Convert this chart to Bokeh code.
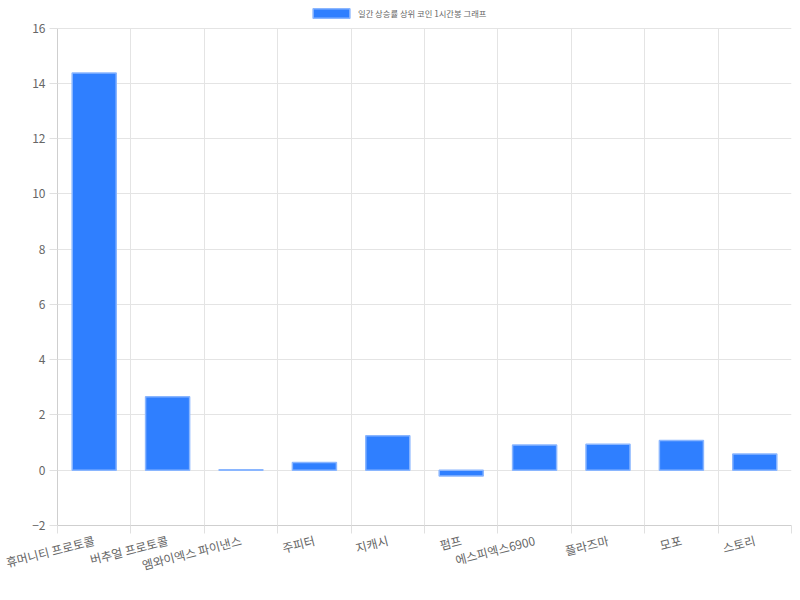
from bokeh.plotting import figure
from bokeh.models import FixedTicker, Grid, Legend, LegendItem, ColumnDataSource, Range1d
from bokeh.embed import file_html
from bokeh.resources import INLINE

categories = ["휴머니티 프로토콜", "버추얼 프로토콜", "엠와이엑스 파이낸스", "주피터", "지캐시",
              "펌프", "에스피엑스6900", "플라즈마", "모포", "스토리"]
values = [14.37, 2.66, 0.02, 0.28, 1.25, -0.21, 0.91, 0.94, 1.08, 0.59]
series_name = "일간 상승률 상위 코인 1시간봉 그래프"
y_ticks = [-2, 0, 2, 4, 6, 8, 10, 12, 14, 16]

n = len(categories)
centers = [i + 0.5 for i in range(n)]
bounds = [float(i) for i in range(n + 1)]

FONT = "Noto Sans CJK KR"

W, H = 792, 584
LEFT, BOTTOM, TOP_PAD = 57, 50, 28
frame_h = H - BOTTOM
ymin, ymax = -2, 16
px_per_unit = (frame_h - TOP_PAD) / (ymax - ymin)
y_end = ymax + TOP_PAD / px_per_unit   # leave room above the axis for the legend

p = figure(width=W, height=H, output_backend="svg", toolbar_location=None,
           x_range=Range1d(0, n), y_range=Range1d(ymin, y_end),
           min_border_left=LEFT, min_border_right=1, min_border_top=0, min_border_bottom=BOTTOM)
p.outline_line_color = None
p.background_fill_color = "white"
p.border_fill_color = "white"

src = ColumnDataSource(dict(x=centers, top=values))
r = p.vbar(x="x", top="top", bottom=0, width=0.6, source=src,
           fill_color="#2f7fff", line_color="#8ab6ff", line_width=1.5)

# grids
p.xgrid.visible = False
p.ygrid.ticker = FixedTicker(ticks=y_ticks)
p.ygrid.grid_line_color = "#e4e4e4"
p.add_layout(Grid(dimension=0, ticker=FixedTicker(ticks=bounds), grid_line_color="#e4e4e4",
                  cross_bounds=(ymin, ymax)))

# x axis
xa = p.xaxis[0]
xa.ticker = FixedTicker(ticks=centers, minor_ticks=bounds)
xa.major_label_overrides = {c: lab for c, lab in zip(centers, categories)}
xa.major_tick_line_color = None
xa.minor_tick_line_color = "#e0e0e0"
xa.minor_tick_out = 8
xa.minor_tick_in = 0
xa.axis_line_color = "#cfcfcf"
xa.major_label_orientation = 0.25
xa.major_label_standoff = 6
xa.major_label_text_font = FONT
xa.major_label_text_font_size = "12px"
xa.major_label_text_color = "#666666"

# y axis
ya = p.yaxis[0]
ya.ticker = FixedTicker(ticks=y_ticks)
ya.bounds = (ymin, ymax)
ya.major_tick_out = 8
ya.major_tick_in = 0
ya.major_tick_line_color = "#e0e0e0"
ya.minor_tick_line_color = None
ya.axis_line_color = "#cfcfcf"
ya.major_label_standoff = 4
ya.major_label_text_font = FONT
ya.major_label_text_font_size = "12px"
ya.major_label_text_color = "#666666"

legend = Legend(items=[LegendItem(label=series_name, renderers=[r])],
                orientation="horizontal", location=(251, frame_h - 28),
                glyph_width=46, glyph_height=12,
                label_text_font=FONT, label_text_font_size="8.3px",
                label_text_color="#666666", label_standoff=4,
                padding=2, margin=0,
                border_line_color=None, background_fill_alpha=0)
p.add_layout(legend, "center")

open("out.html", "w").write(file_html(p, INLINE))
